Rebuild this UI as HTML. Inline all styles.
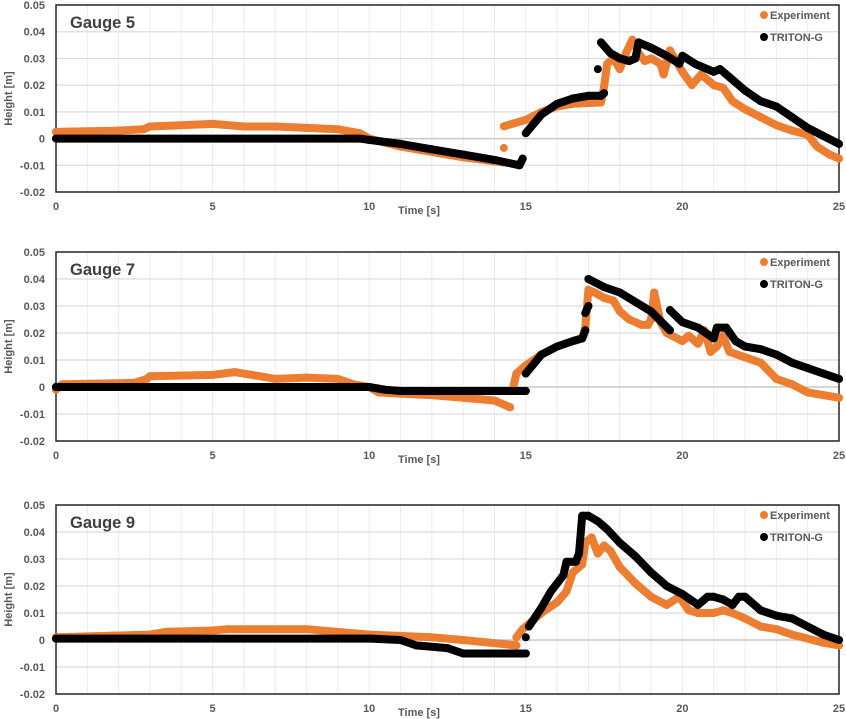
<!DOCTYPE html>
<html><head><meta charset="utf-8"><style>
body{margin:0;background:#fff;width:846px;height:719px;overflow:hidden;font-family:"Liberation Sans",sans-serif}
svg{display:block}
</style></head><body>
<svg id="chart" width="846" height="719"></svg>
<script>
const ticksX=[0,5,10,15,20,25];
const ticksY=[0.05,0.04,0.03,0.02,0.01,0,-0.01,-0.02];
const gaugeNames=["Gauge 5","Gauge 7","Gauge 9"];
// [time, height] pairs; null breaks the line
const g5ExpT=[0,2,2.8,3,4,5,6,7,8,9,9.7,10,11,12,13,14,14.3,null,14.3,null,14.3,15,15.5,16,16.5,17.4,17.5,17.6,17.8,18,18.2,18.4,18.6,18.8,19,19.3,19.4,19.6,19.8,20,20.3,20.6,21,21.3,21.6,22,22.5,23,23.5,24,24.3,24.7,25];
const g5ExpH=[0.0025,0.003,0.0035,0.0045,0.005,0.0055,0.0045,0.0045,0.004,0.0035,0.002,0,-0.003,-0.005,-0.007,-0.0085,-0.009,null,-0.0035,null,0.0046,0.007,0.01,0.012,0.013,0.0135,0.0195,0.028,0.03,0.026,0.032,0.037,0.032,0.029,0.03,0.028,0.024,0.033,0.029,0.025,0.02,0.024,0.02,0.019,0.014,0.011,0.008,0.005,0.003,0.0015,-0.003,-0.006,-0.0075];
const g5SimT=[0,9.7,10,11,12,13,14,14.8,14.9,null,15,15.5,16,16.5,17,17.4,17.5,null,17.3,null,17.4,17.7,18,18.3,18.5,18.6,19,19.5,19.9,20,20.4,21,21.2,21.5,22,22.5,23,23.5,24,24.5,25];
const g5SimH=[0,0,-0.0005,-0.002,-0.004,-0.006,-0.008,-0.01,-0.0075,null,0.002,0.009,0.013,0.015,0.016,0.016,0.017,null,0.026,null,0.036,0.032,0.03,0.029,0.03,0.036,0.034,0.031,0.028,0.031,0.028,0.025,0.026,0.023,0.018,0.014,0.012,0.008,0.004,0.001,-0.002];
const g7ExpT=[0,0.2,2.5,2.9,3,5,5.7,6.5,7,8,9,9.5,10,10.3,11,12,13,14,14.5,null,14.6,14.7,15,15.5,16,16.5,16.8,16.9,17,17.2,17.5,17.8,18,18.3,18.7,18.9,19,19.1,19.3,19.5,20,20.2,20.5,20.7,20.9,21.1,21.3,21.5,22,22.5,23,23.5,24,24.5,25];
const g7ExpH=[-0.001,0.001,0.0015,0.003,0.004,0.0045,0.0055,0.004,0.003,0.0035,0.003,0.001,0,-0.002,-0.0025,-0.003,-0.004,-0.005,-0.0075,null,0,0.005,0.008,0.012,0.015,0.017,0.018,0.022,0.036,0.035,0.033,0.032,0.028,0.025,0.023,0.023,0.025,0.035,0.024,0.02,0.017,0.019,0.016,0.021,0.013,0.015,0.019,0.013,0.011,0.009,0.003,0.001,-0.002,-0.003,-0.004];
const g7SimT=[0,10,10.5,11,15,null,15,15.5,16,16.5,16.8,16.9,null,16.9,17,null,17,17.5,18,19,19.6,null,19.6,20,20.5,21,21.1,21.4,21.7,22,22.5,23,23.5,24,24.5,25];
const g7SimH=[0,0,-0.001,-0.0015,-0.0015,null,0.005,0.012,0.015,0.017,0.018,0.021,null,0.0274,0.03,null,0.04,0.037,0.035,0.028,0.021,null,0.0285,0.024,0.022,0.018,0.022,0.022,0.017,0.015,0.014,0.012,0.009,0.007,0.005,0.003];
const g9ExpT=[0,3,3.5,5,5.5,8,10,12,13,14.7,null,14.7,14.9,15.2,15.5,16,16.3,16.5,16.8,16.9,17.1,17.3,17.5,17.7,18,18.5,19,19.5,19.9,20.2,20.5,21,21.3,21.6,22,22.5,23,23.5,24,24.5,25];
const g9ExpH=[0.001,0.002,0.003,0.0035,0.004,0.004,0.002,0.001,0,-0.002,null,0.001,0.004,0.007,0.01,0.014,0.018,0.025,0.028,0.036,0.038,0.032,0.035,0.033,0.027,0.021,0.016,0.013,0.016,0.011,0.01,0.01,0.011,0.01,0.008,0.005,0.004,0.002,0.0005,-0.001,-0.002];
const g9SimT=[0,10,11,11.5,12.5,13,15,null,15,null,15.1,15.5,15.8,16.2,16.3,16.6,16.7,16.8,17,17.3,17.6,18,18.5,19,19.5,20,20.5,20.8,21,21.3,21.6,21.8,22,22.5,23,23.5,24,24.5,25];
const g9SimH=[0.0005,0.0005,0,-0.002,-0.003,-0.005,-0.005,null,0.001,null,0.005,0.012,0.018,0.024,0.029,0.029,0.032,0.046,0.046,0.044,0.041,0.036,0.031,0.025,0.02,0.017,0.013,0.016,0.016,0.015,0.013,0.016,0.016,0.011,0.009,0.008,0.005,0.002,0];

const panels=[
 {top:5,bot:192,expT:g5ExpT,expH:g5ExpH,simT:g5SimT,simH:g5SimH},
 {top:252,bot:441,expT:g7ExpT,expH:g7ExpH,simT:g7SimT,simH:g7SimH},
 {top:505,bot:694,expT:g9ExpT,expH:g9ExpH,simT:g9SimT,simH:g9SimH}];
const L=56,R=839;
const NS="http://www.w3.org/2000/svg";
const svg=document.getElementById('chart');
function mk(tag,attrs,parent){const e=document.createElementNS(NS,tag);for(const k in attrs)e.setAttribute(k,attrs[k]);(parent||svg).appendChild(e);return e;}
const xS=t=>L+t/25*(R-L);
panels.forEach((p,i)=>{
 const g=mk('g',{});
 
 
 const yS=h=>p.top+(0.05-h)/0.07*(p.bot-p.top);
 for(let t=1;t<25;t++){const l=mk('line',{x1:xS(t),x2:xS(t),y1:p.top,y2:p.bot,stroke:'#ececec','stroke-width':1},g);
  }
 ticksY.forEach(v=>{
  const y=yS(v);
  const l=mk('line',{x1:L,x2:R,y1:y,y2:y,stroke:Math.abs(v)<1e-9?'#c8c8c8':'#dcdcdc','stroke-width':Math.abs(v)<1e-9?1.5:1.2},g);
  
  const tx=mk('text',{x:45,y:y+4,'text-anchor':'end','font-size':'11','font-weight':'bold',fill:'#595959'},g);
  tx.textContent=String(v);
  
 });
 ticksX.forEach(v=>{
  const tx=mk('text',{x:xS(v),y:p.bot+18,'text-anchor':'middle','font-size':'11','font-weight':'bold',fill:'#595959'},g);
  tx.textContent=String(v);
  
 });
 const fr=mk('rect',{x:L,y:p.top,width:R-L,height:p.bot-p.top,fill:'none',stroke:'#262626','stroke-width':1.5},g);
 
 function series(T,H,color,name){
  const sg=mk('g',{},g);
  
  let d='',start=true;
  for(let k=0;k<T.length;k++){
   if(T[k]===null){start=true;continue;}
   d+=(start?'M':'L')+xS(T[k]).toFixed(1)+' '+yS(H[k]).toFixed(1)+' ';start=false;
  }
  const pa=mk('path',{d:d,fill:'none',stroke:color,'stroke-width':8,'stroke-linecap':'round','stroke-linejoin':'round'},sg);
  
  for(let k=0;k<T.length;k++){if(T[k]===null)continue;
   const c=mk('circle',{cx:xS(T[k]),cy:yS(H[k]),r:4,fill:color},sg);
   }
 }
 series(p.expT,p.expH,'#ED7D31','experiment-series');
 series(p.simT,p.simH,'#000000','triton-g-series');
 const ti=mk('text',{x:70,y:p.top+23,'font-size':'16.5','font-weight':'bold',fill:'#404040'},g);
 ti.textContent=gaugeNames[i];
 
 [['Experiment','#ED7D31',p.top+10],['TRITON-G','#000',p.top+32]].forEach(([lab,col,y])=>{
  const lg=mk('g',{},g);
  
  mk('circle',{cx:764,cy:y,r:4,fill:col},lg);
  const t=mk('text',{x:770,y:y+4,'font-size':'11','font-weight':'bold',fill:'#595959'},lg);
  t.textContent=lab;
 });
 const yt=mk('text',{x:0,y:0,transform:`translate(12,${(p.top+p.bot)/2}) rotate(-90)`,'text-anchor':'middle','font-size':'11','font-weight':'bold',fill:'#595959'},g);
 yt.textContent='Height [m]';
 
 const xt=mk('text',{x:419,y:p.bot+22,'text-anchor':'middle','font-size':'11','font-weight':'bold',fill:'#595959'},g);
 xt.textContent='Time [s]';
 
});
</script>
</body></html>
